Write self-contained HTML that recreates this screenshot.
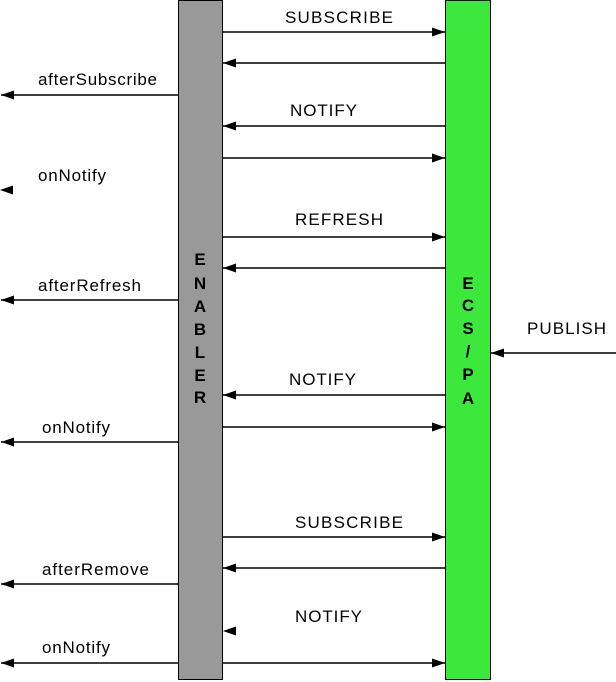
<!DOCTYPE html>
<html><head><meta charset="utf-8"><style>
html,body{margin:0;padding:0;background:#fff;}
svg{display:block;}
text{font-family:"Liberation Sans",Arial,sans-serif;font-size:17px;fill:#000;}
.b{font-weight:bold;font-size:17px;text-anchor:middle;}
</style></head><body>
<svg width="616" height="682" viewBox="0 0 616 682" xmlns="http://www.w3.org/2000/svg">
<defs>
<marker id="a" markerWidth="13" markerHeight="10" refX="13" refY="5" orient="auto" markerUnits="userSpaceOnUse">
<path d="M0,0.5 L13,5 L0,9.5 z" fill="#000"/>
</marker>
</defs>
<rect x="178.5" y="0.5" width="44" height="679" fill="#999" stroke="#000"/>
<rect x="445.5" y="0.5" width="45" height="679" fill="#3de83d" stroke="#000"/>
<g stroke="#000" stroke-width="1.5" marker-end="url(#a)">
<line x1="223" y1="32" x2="445" y2="32"/>
<line x1="445" y1="63" x2="223" y2="63"/>
<line x1="178" y1="95" x2="1" y2="95"/>
<line x1="445" y1="126" x2="223" y2="126"/>
<line x1="223" y1="158" x2="445" y2="158"/>
<line x1="223" y1="237" x2="445" y2="237"/>
<line x1="445" y1="268" x2="223" y2="268"/>
<line x1="178" y1="300" x2="1" y2="300"/>
<line x1="616" y1="353" x2="491" y2="353"/>
<line x1="445" y1="395" x2="223" y2="395"/>
<line x1="223" y1="427" x2="445" y2="427"/>
<line x1="178" y1="442" x2="1" y2="442"/>
<line x1="223" y1="537" x2="445" y2="537"/>
<line x1="445" y1="568" x2="223" y2="568"/>
<line x1="178" y1="584" x2="1" y2="584"/>
<line x1="178" y1="663" x2="1" y2="663"/>
<line x1="223" y1="663" x2="445" y2="663"/>
</g>
<path d="M13,185.5 L0,190 L13,194.5 z" fill="#000"/>
<path d="M236,626.5 L223,631 L236,635.5 z" fill="#000"/>
<text x="285" y="23" textLength="108">SUBSCRIBE</text>
<text x="38" y="85" textLength="119">afterSubscribe</text>
<text x="290" y="116" textLength="67">NOTIFY</text>
<text x="38" y="181" textLength="68">onNotify</text>
<text x="295" y="225" textLength="88">REFRESH</text>
<text x="38" y="291" textLength="103">afterRefresh</text>
<text x="527" y="334" textLength="79">PUBLISH</text>
<text x="289" y="385" textLength="67">NOTIFY</text>
<text x="42" y="433" textLength="68">onNotify</text>
<text x="295" y="528" textLength="108">SUBSCRIBE</text>
<text x="42" y="575" textLength="107">afterRemove</text>
<text x="295" y="622" textLength="67">NOTIFY</text>
<text x="42" y="653" textLength="68">onNotify</text>
<text class="b" x="200" y="265">E</text>
<text class="b" x="200" y="289">N</text>
<text class="b" x="200" y="312">A</text>
<text class="b" x="200" y="335">B</text>
<text class="b" x="200" y="358">L</text>
<text class="b" x="200" y="381">E</text>
<text class="b" x="200" y="403">R</text>
<text class="b" x="468" y="289">E</text>
<text class="b" x="468" y="311">C</text>
<text class="b" x="468" y="334">S</text>
<text class="b" x="468" y="357">/</text>
<text class="b" x="468" y="380">P</text>
<text class="b" x="468" y="404">A</text>
</svg>
</body></html>
